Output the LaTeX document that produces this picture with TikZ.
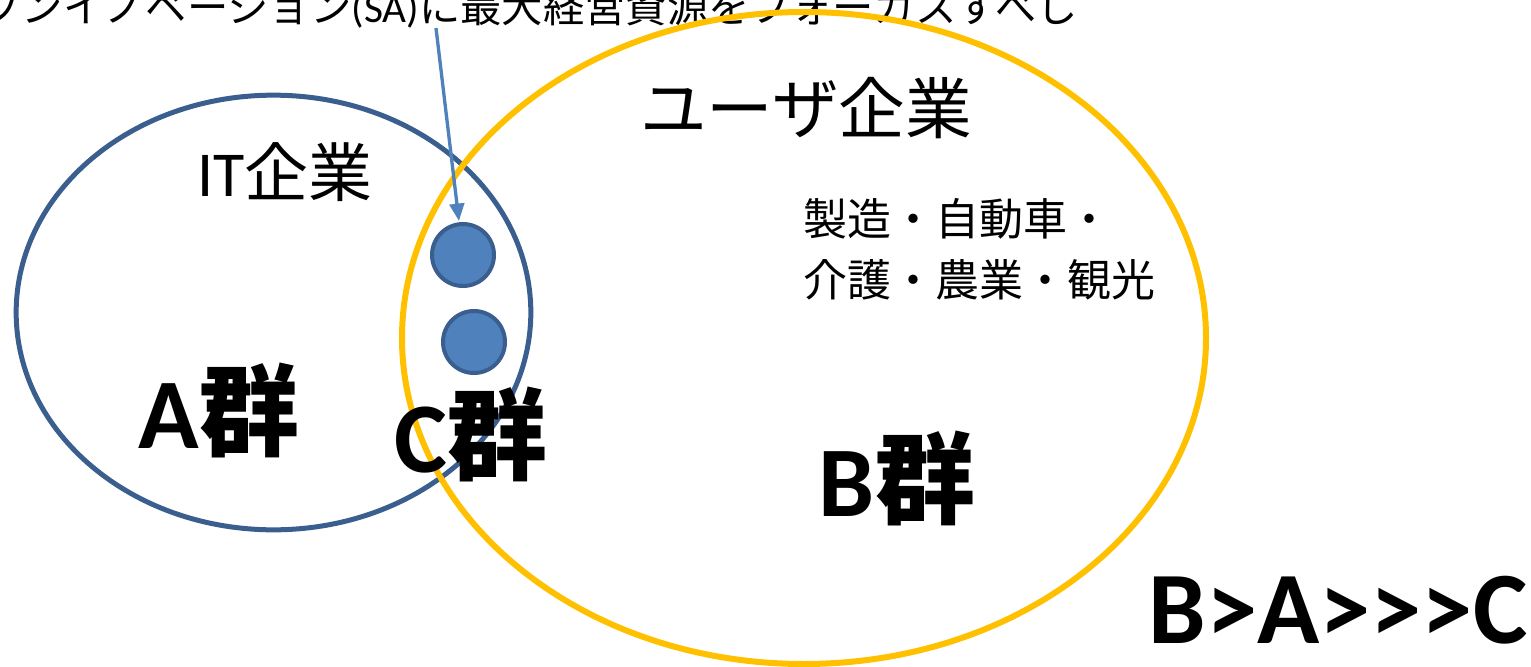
\documentclass[tikz,border=0pt]{standalone}
\usepackage{fontspec}
\setmainfont{Carlito}
\newfontfamily\jp{Noto Sans CJK JP}
\usetikzlibrary{arrows.meta,shapes.geometric}
\definecolor{ablue}{HTML}{3A5F8E}
\definecolor{cfill}{HTML}{4F81BD}
\definecolor{byellow}{HTML}{FFC000}
\tikzset{
  circ/.style={circle, draw=ablue, fill=cfill, line width=3pt, minimum size=46.5pt, inner sep=0pt},
  arr/.style={draw=cfill, line width=2.5pt, -{Triangle[length=13pt,width=11pt]}, shorten >=1pt},
  lbl/.style={inner sep=0pt, anchor=center, text=black},
}
\begin{document}
\begin{tikzpicture}[x=0.75pt,y=-0.75pt]
\useasboundingbox (0,0) rectangle (1531,667);
\clip (0,0) rectangle (1531,667);
% top cut-off text
\node[lbl, anchor=east] (top) at (1078,8) {\fontsize{31}{36}\selectfont\jp オープンイノベーション\rmfamily (SA)\jp に最大経営資源をフォーカスすべし};
% ellipses
\node[draw=ablue, line width=3.75pt, ellipse, minimum width=386pt, minimum height=326pt, inner sep=0pt] (A) at (273.5,312.5) {};
\node[draw=byellow, line width=4.5pt, ellipse, minimum width=603pt, minimum height=489pt, inner sep=0pt] (B) at (804,338) {};
% circles
\node[circ] (c1) at (463,255) {};
\node[circ] (c2) at (474,342) {};
% arrow
\coordinate (ast) at (436,28);
\draw[arr] (ast) -- (c1);
% labels
\node[lbl] (it) at (285,172) {\fontsize{48}{56}\selectfont IT\jp 企業};
\node[lbl] (user) at (806,108) {\fontsize{50}{58}\selectfont\jp ユーザ企業};
\node[lbl, anchor=north west, align=left, font={\fontsize{33}{46}\selectfont\jp}] (ind) at (803,198) {製造・自動車・\\介護・農業・観光};
\node[lbl] (ga) at (219,410) {\fontsize{75}{80}\selectfont\bfseries A\jp 群};
\node[lbl] (gc) at (471,434) {\fontsize{75}{80}\selectfont\bfseries C\jp 群};
\node[lbl] (gb) at (897,478) {\fontsize{75}{80}\selectfont\bfseries B\jp 群};
\node[lbl] (cmp) at (1338,610) {\fontsize{77}{85}\selectfont\bfseries B{>}A{>}{>}{>}C};
\end{tikzpicture}
\end{document}
